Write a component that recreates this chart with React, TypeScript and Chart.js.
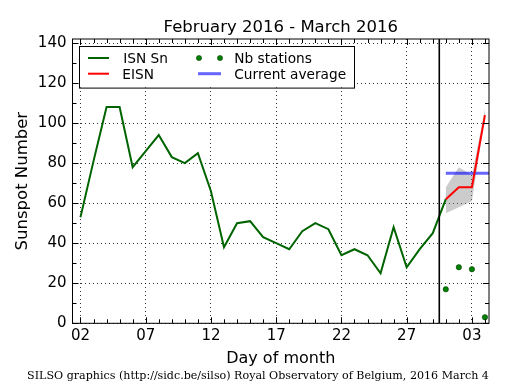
import React, { useEffect, useRef } from "react";
import { Chart, registerables } from "chart.js";

Chart.register(...registerables);

// ---- data (day numbers: Feb n = n, Mar n = 29 + n) ----
const isnDays = [2, 3, 4, 5, 6, 7, 8, 9, 10, 11, 12, 13, 14, 15, 16, 17, 18, 19, 20, 21, 22, 23, 24, 25, 26, 27, 28, 29, 30];
const isnValues = [53, 81, 108, 108, 78, 86, 94, 83, 80, 85, 66, 38, 50, 51, 43, 40, 37, 46, 50, 47, 34, 37, 34, 25, 48, 28, 37, 45, 62];
const eisnDays = [30, 31, 32, 33];
const eisnValues = [62, 68, 68, 104];
const bandLower = [55, 58, 61, 103];
const bandUpper = [68, 78, 74, 107];
const stationDays = [30, 31, 32, 33];
const stationValues = [17, 28, 27, 3];
const averageDays = [30, 34];
const averageValues = [75, 75];
const xTickDays = [2, 7, 12, 17, 22, 27, 32];
const xTickLabels = ["02", "07", "12", "17", "22", "27", "03"];
const yTickValues = [0, 20, 40, 60, 80, 100, 120, 140];
const separatorDay = 29.5;
const xMin = 1.39;
const xMax = 33.31;
const yMin = 0;
const yMax = 142;

const titleText = "February 2016 - March 2016";
const xTitle = "Day of month";
const yTitle = "Sunspot Number";
const footerText = "SILSO graphics (http://sidc.be/silso) Royal Observatory of Belgium, 2016 March 4";
const legendLabels = ["ISN Sn", "EISN", "Nb stations", "Current average"];

const GREEN = "#006400";
const DOT_GREEN = "#008000";
const RED = "#ff0000";
const BLUE = "rgba(0,0,255,0.6)";
const BAND = "rgba(128,128,128,0.4)";
const SANS = "'DejaVu Sans', sans-serif";
const SERIF = "'DejaVu Serif', serif";

const toPts = (xs: number[], ys: number[]) => xs.map((x, i) => ({ x, y: ys[i] }));

const decor = {
  id: "silsoDecor",
  afterDatasetsDraw(chart: any) {
    const { ctx, chartArea: a, scales } = chart;
    const x = scales.x;
    const y = scales.y;
    const line = (x1: number, y1: number, x2: number, y2: number) => {
      ctx.beginPath();
      ctx.moveTo(x1, y1);
      ctx.lineTo(x2, y2);
      ctx.stroke();
    };
    ctx.save();
    ctx.strokeStyle = "#000";
    // separator
    ctx.lineWidth = 1.6;
    const sx = x.getPixelForValue(separatorDay);
    line(sx, a.top, sx, a.bottom);
    // frame
    ctx.lineWidth = 1;
    ctx.strokeRect(a.left, a.top, a.right - a.left, a.bottom - a.top);
    // x ticks (major + daily minor), bottom and top, inward
    for (let d = Math.ceil(x.min); d <= x.max; d++) {
      const px = Math.round(x.getPixelForValue(d)) + 0.5;
      const len = xTickDays.includes(d) ? 6 : 4;
      line(px, a.bottom, px, a.bottom - len);
      line(px, a.top, px, a.top + len);
    }
    // y ticks (major every 20, minor every 10), left and right, inward
    for (let v = 0; v <= y.max; v += 10) {
      const py = Math.round(y.getPixelForValue(v)) + 0.5;
      const len = v % 20 === 0 ? 6 : 4;
      line(a.left, py, a.left + len, py);
      line(a.right, py, a.right - len, py);
    }
    ctx.restore();
  },
  afterDraw(chart: any) {
    const { ctx, chartArea: a } = chart;
    const cx = (a.left + a.right) / 2;
    ctx.save();
    ctx.fillStyle = "#000";
    ctx.textBaseline = "alphabetic";
    // title
    ctx.font = `16.5px ${SANS}`;
    ctx.textAlign = "center";
    ctx.fillText(titleText, cx, a.top - 7);
    // x title
    ctx.font = `16px ${SANS}`;
    ctx.fillText(xTitle, cx, a.bottom + 39.5);
    // y title
    ctx.save();
    ctx.translate(a.left - 45.3, (a.top + a.bottom) / 2);
    ctx.rotate(-Math.PI / 2);
    ctx.font = `16.5px ${SANS}`;
    ctx.fillText(yTitle, 0, 0);
    ctx.restore();
    // footer
    ctx.font = `11.1px ${SERIF}`;
    ctx.fillText(footerText, 258, 379);

    // legend
    const lx = a.left + 6.8;
    const ly = a.top + 6.7;
    const lw = 275;
    const lh = 41.6;
    ctx.fillStyle = "#fff";
    ctx.fillRect(lx, ly, lw, lh);
    ctx.strokeStyle = "#000";
    ctx.lineWidth = 1;
    ctx.strokeRect(Math.round(lx) + 0.5, Math.round(ly) + 0.5, lw, lh);
    const row1 = ly + 12.3;
    const row2 = ly + 28;
    ctx.lineWidth = 2;
    ctx.strokeStyle = GREEN;
    ctx.beginPath(); ctx.moveTo(lx + 8.7, row1); ctx.lineTo(lx + 29.7, row1); ctx.stroke();
    ctx.strokeStyle = RED;
    ctx.beginPath(); ctx.moveTo(lx + 8.7, row2); ctx.lineTo(lx + 29.7, row2); ctx.stroke();
    ctx.fillStyle = DOT_GREEN;
    ctx.strokeStyle = "#003000";
    ctx.lineWidth = 0.5;
    for (const dx of [119.7, 140.7]) {
      ctx.beginPath(); ctx.arc(lx + dx, row1, 2.6, 0, Math.PI * 2); ctx.fill(); ctx.stroke();
    }
    ctx.strokeStyle = BLUE;
    ctx.lineWidth = 3;
    ctx.beginPath(); ctx.moveTo(lx + 118.7, row2); ctx.lineTo(lx + 141.7, row2); ctx.stroke();
    ctx.fillStyle = "#000";
    ctx.font = `13.7px ${SANS}`;
    ctx.textAlign = "left";
    ctx.fillText(legendLabels[0], lx + 44, row1 + 5);
    ctx.fillText(legendLabels[1], lx + 43, row2 + 5);
    ctx.fillText(legendLabels[2], lx + 155, row1 + 5);
    ctx.fillText(legendLabels[3], lx + 155, row2 + 5);
    ctx.restore();
  },
};

export default function App() {
  const ref = useRef<HTMLCanvasElement | null>(null);
  useEffect(() => {
    if (!ref.current) return;
    const chart = new Chart(ref.current, {
      type: "line",
      data: {
        datasets: [
          {
            label: "EISN",
            data: toPts(eisnDays, eisnValues),
            borderColor: RED,
            borderWidth: 2,
            pointRadius: 0,
            fill: false,
            order: 0,
          },
          {
            label: "ISN Sn",
            data: toPts(isnDays, isnValues),
            borderColor: GREEN,
            borderWidth: 2,
            pointRadius: 0,
            fill: false,
            order: 1,
          },
          {
            label: "Nb stations",
            data: toPts(stationDays, stationValues),
            showLine: false,
            pointRadius: 2.7,
            pointBackgroundColor: DOT_GREEN,
            pointBorderColor: "#003000",
            pointBorderWidth: 0.5,
            fill: false,
            order: 2,
          },
          {
            label: "Current average",
            data: toPts(averageDays, averageValues),
            borderColor: BLUE,
            borderWidth: 3,
            pointRadius: 0,
            fill: false,
            order: 3,
          },
          {
            label: "band low",
            data: toPts(eisnDays, bandLower),
            borderColor: "rgba(0,0,0,0)",
            borderWidth: 0,
            pointRadius: 0,
            fill: false,
            order: 5,
          },
          {
            label: "band high",
            data: toPts(eisnDays, bandUpper),
            borderColor: "rgba(0,0,0,0)",
            borderWidth: 0,
            pointRadius: 0,
            backgroundColor: BAND,
            fill: "-1",
            order: 4,
          },
        ],
      },
      options: {
        animation: false,
        responsive: false,
        devicePixelRatio: 1,
        layout: { padding: { left: 0, right: 26, top: 39, bottom: 0 } },
        plugins: {
          legend: { display: false },
          title: { display: false },
          tooltip: { enabled: false },
        },
        scales: {
          x: {
            type: "linear",
            min: xMin,
            max: xMax,
            afterBuildTicks: (s: any) => {
              s.ticks = xTickDays.map((v) => ({ value: v }));
            },
            afterFit: (s: any) => {
              s.height = 66.7;
            },
            ticks: {
              autoSkip: false,
              maxRotation: 0,
              padding: 4,
              color: "#000",
              font: { family: "DejaVu Sans", size: 15 },
              callback: (v: any) => {
                const i = xTickDays.indexOf(Number(v));
                return i >= 0 ? xTickLabels[i] : "";
              },
            },
            grid: { color: "#000", lineWidth: 0.8, drawTicks: false },
            border: { display: false, dash: [1, 3] },
          },
          y: {
            type: "linear",
            min: yMin,
            max: yMax,
            afterBuildTicks: (s: any) => {
              s.ticks = yTickValues.map((v) => ({ value: v }));
            },
            afterFit: (s: any) => {
              s.width = 72.5;
            },
            ticks: {
              padding: 6,
              color: "#000",
              font: { family: "DejaVu Sans", size: 15 },
            },
            grid: { color: "#000", lineWidth: 0.8, drawTicks: false },
            border: { display: false, dash: [1, 3] },
          },
        },
      },
      plugins: [decor],
    } as any);
    return () => chart.destroy();
  }, []);
  return (
    <div style={{ position: "fixed", left: 0, top: 0, width: 515, height: 390, background: "#fff" }}>
      <canvas ref={ref} width={515} height={390} style={{ width: 515, height: 390, display: "block" }} />
    </div>
  );
}
